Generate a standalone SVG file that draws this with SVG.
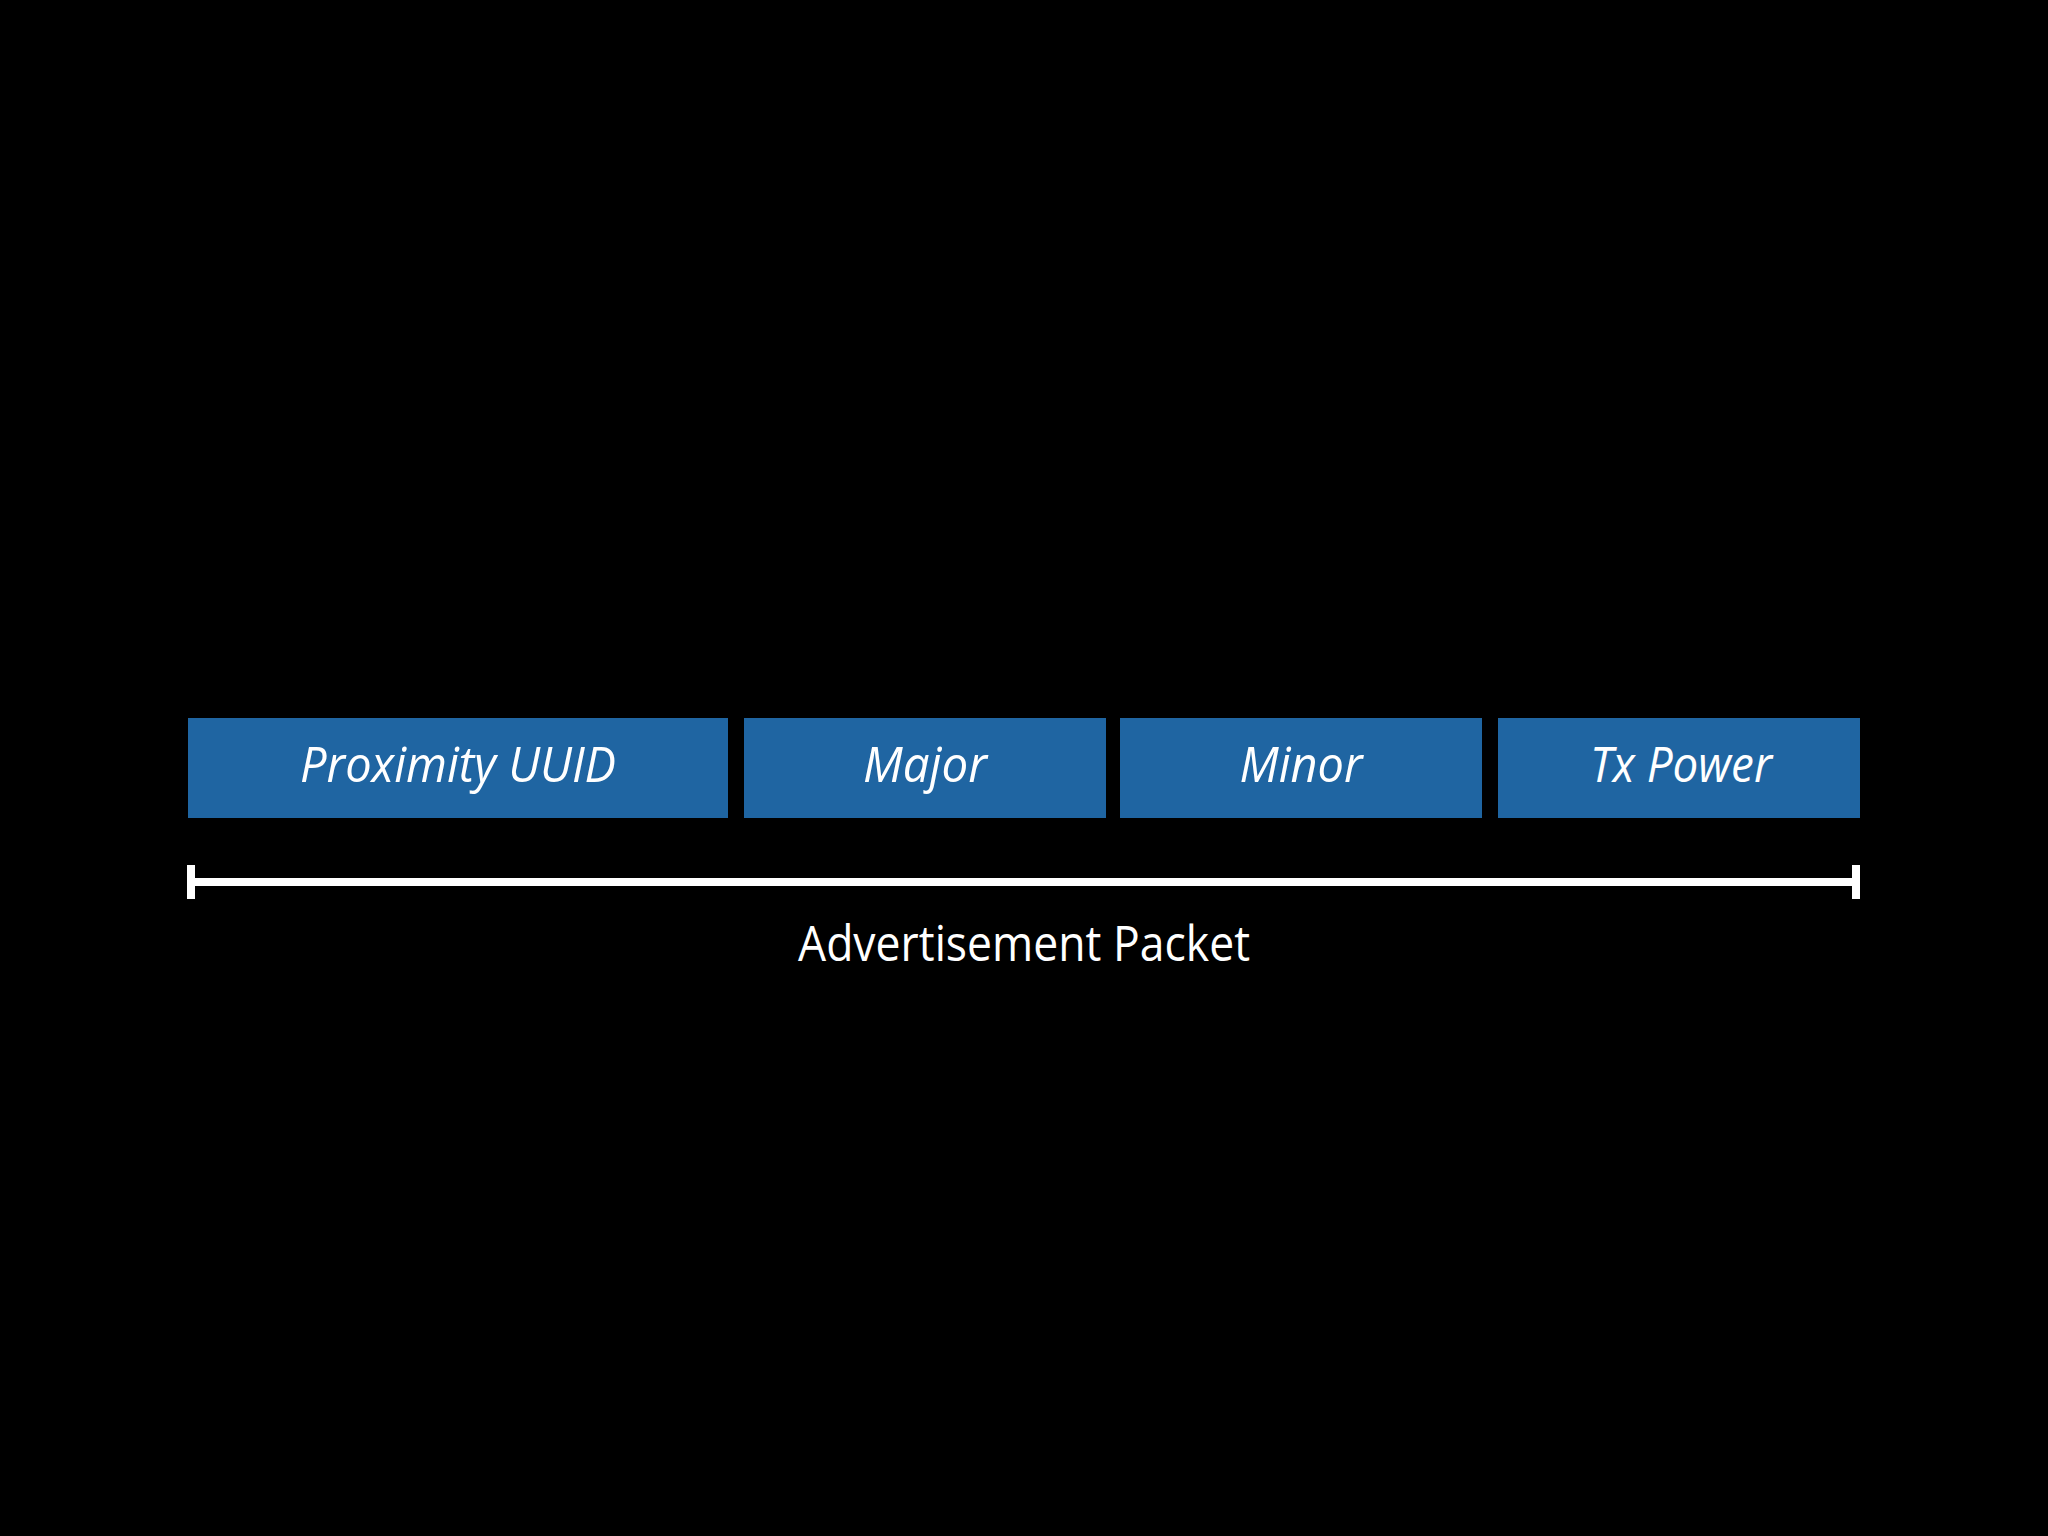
<svg xmlns="http://www.w3.org/2000/svg" width="2048" height="1536" viewBox="0 0 2048 1536">
<style>
.box{fill:#1f65a2}
.lbl{font-family:"Open Sans","Noto Sans","Liberation Sans",sans-serif;font-style:italic;font-size:50px;fill:#ffffff;text-anchor:middle}
.cap{font-family:"Open Sans","Noto Sans","Liberation Sans",sans-serif;font-size:50px;fill:#ffffff;text-anchor:middle}
.br{fill:#ffffff}
</style>
<rect x="0" y="0" width="2048" height="1536" fill="#000000"/>
<g id="proximity-uuid">
<rect class="box" x="188" y="718" width="540" height="100"/>
<text class="lbl" x="458" y="782" textLength="316" lengthAdjust="spacingAndGlyphs">Proximity UUID</text>
</g>
<g id="major">
<rect class="box" x="744" y="718" width="362" height="100"/>
<text class="lbl" x="925" y="782" textLength="124" lengthAdjust="spacingAndGlyphs">Major</text>
</g>
<g id="minor">
<rect class="box" x="1120" y="718" width="362" height="100"/>
<text class="lbl" x="1301" y="782" textLength="123" lengthAdjust="spacingAndGlyphs">Minor</text>
</g>
<g id="tx-power">
<rect class="box" x="1498" y="718" width="362" height="100"/>
<text class="lbl" x="1681" y="782" textLength="182" lengthAdjust="spacingAndGlyphs">Tx Power</text>
</g>
<g id="connectors">
<rect class="br" x="188" y="878" width="1672" height="8"/>
<rect class="br" x="187" y="865" width="8" height="34"/>
<rect class="br" x="1852" y="865" width="8" height="34"/>
</g>
<g id="advertisement-packet">
<text class="cap" x="1024" y="961" textLength="452" lengthAdjust="spacingAndGlyphs">Advertisement Packet</text>
</g>
</svg>
